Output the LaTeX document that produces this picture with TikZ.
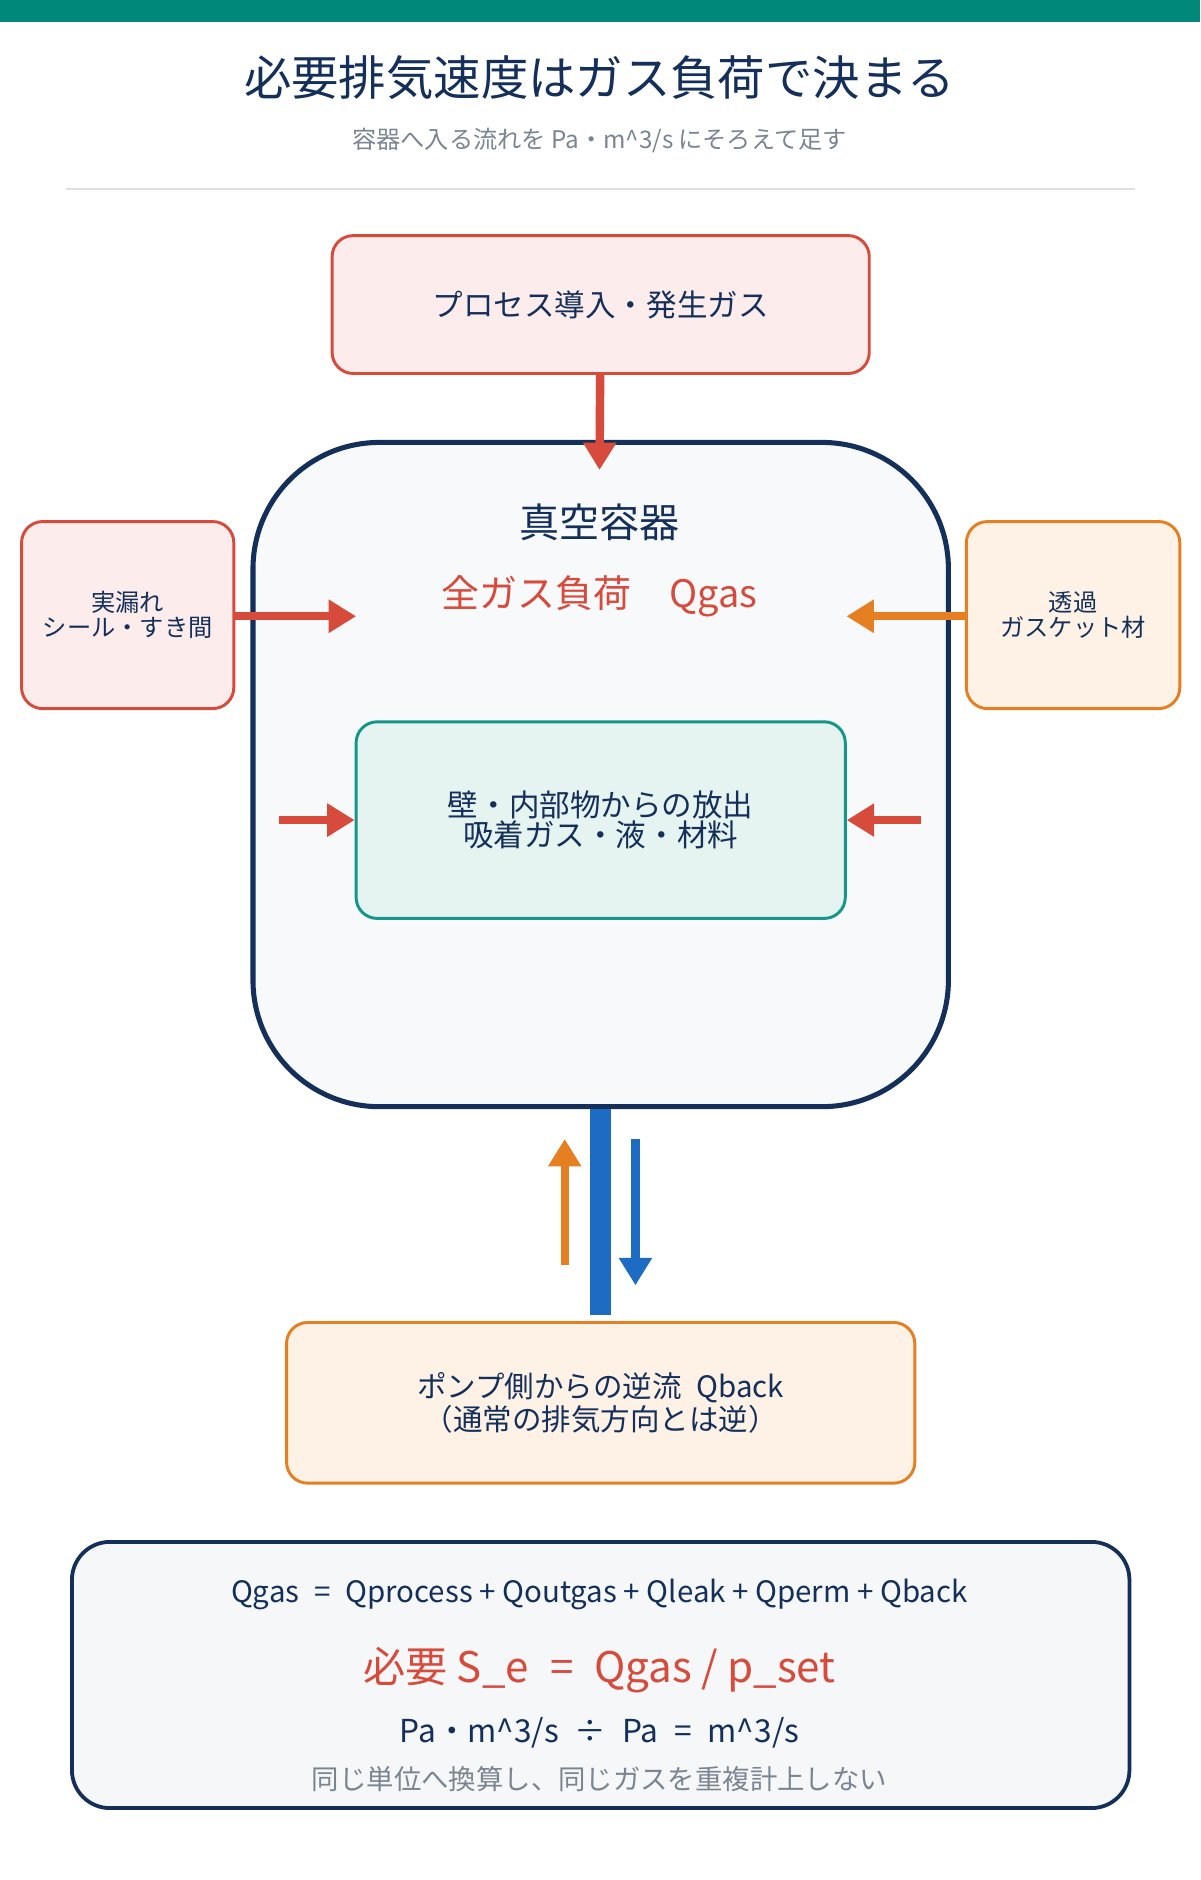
\documentclass[tikz,border=0pt]{standalone}
\usepackage{fontspec}
\setmainfont{Noto Sans CJK JP}
\usetikzlibrary{arrows.meta}
\definecolor{navy}{HTML}{14305A}
\definecolor{teal}{HTML}{00897B}
\definecolor{redline}{HTML}{D64B3C}
\definecolor{redfill}{HTML}{FDECEC}
\definecolor{orline}{HTML}{E67E22}
\definecolor{orfill}{HTML}{FEF2E6}
\definecolor{tealfill}{HTML}{E6F4F1}
\definecolor{tealline}{HTML}{14968A}
\definecolor{blueflow}{HTML}{1E6BC4}
\definecolor{greytext}{HTML}{7A8591}
\newcommand{\fs}[1]{\fontsize{#1}{1.35\dimexpr#1\relax}\selectfont}
\tikzset{
  box/.style={draw, line width=1.4pt, rounded corners=10pt, align=center, text=navy},
  src/.style={box, draw=redline, fill=redfill},
  prm/.style={box, draw=orline, fill=orfill},
  flow/.style={-{Triangle[length=13pt,width=15pt]}, line width=4pt},
}
\begin{document}
\begin{tikzpicture}[x=0.02cm,y=-0.02cm]
  \useasboundingbox (0,0) rectangle (1001,1568);
  \fill[teal] (0,0) rectangle (1001,18);
  \node[text=navy] (title) at (500,65) {\fs{22.5pt}必要排気速度はガス負荷で決まる};
  \node[text=greytext] (sub) at (500,117) {\fs{11.5pt}容器へ入る流れを Pa・m\^{}3/s にそろえて足す};
  \draw[line width=1pt, color=navy!15] (55,158) -- (947,158);
  % vessel
  \draw[line width=2.4pt, draw=navy, fill=navy!3, rounded corners=60pt] (211,369) rectangle (791,923);
  \node[text=navy] (vessel) at (500,436) {\fs{19pt}真空容器};
  \node[text=redline] (qgas) at (500,497) {\fs{18pt}全ガス負荷\quad Qgas};
  % sources
  \node[src, minimum width=448*0.02cm, minimum height=115*0.02cm] (proc) at (501,254) {\fs{14.5pt}プロセス導入・発生ガス};
  \node[src, minimum width=177*0.02cm, minimum height=156*0.02cm] (leak) at (106.5,513) {\fs{11.5pt}実漏れ\\\fs{11.5pt}シール・すき間};
  \node[prm, minimum width=178*0.02cm, minimum height=156*0.02cm] (perm) at (895,513) {\fs{11.5pt}透過\\\fs{11.5pt}ガスケット材};
  \node[box, draw=tealline, fill=tealfill, minimum width=408*0.02cm, minimum height=164*0.02cm] (wall) at (501,684) {\fs{14.5pt}壁・内部物からの放出\\\fs{14.5pt}吸着ガス・液・材料};
  \node[prm, minimum width=524*0.02cm, minimum height=134*0.02cm] (back) at (501,1170) {\fs{14pt}ポンプ側からの逆流\enspace Qback\\\fs{14pt}（通常の排気方向とは逆）};
  \coordinate (pin) at (500,392);
  \coordinate (lin) at (297,514);
  \coordinate (rin) at (706,514);
  \coordinate (wl) at (233,684);
  \coordinate (wr) at (768,684);
  \draw[flow, redline] (proc) -- (pin);
  \draw[flow, redline] (leak.east |- lin) -- (lin);
  \draw[flow, orline] (perm.west |- rin) -- (rin);
  \draw[flow, redline, line width=3.5pt] (wl) -- (wall.west);
  \draw[flow, redline, line width=3.5pt] (wr) -- (wall.east);
  % exhaust
  \fill[blueflow] (492,925) rectangle (510,1097);
  \coordinate (up0) at (471,1055); \coordinate (up1) at (471,950);
  \coordinate (dn0) at (530,950); \coordinate (dn1) at (530,1072);
  \draw[flow, orline] (up0) -- (up1);
  \draw[flow, blueflow] (dn0) -- (dn1);
  % formula
  \draw[line width=1.8pt, draw=navy, fill=navy!4, rounded corners=18pt] (60,1286) rectangle (942,1508);
  \node[text=navy] (sum) at (500,1330) {\fs{14pt}Qgas\enspace=\enspace Qprocess + Qoutgas + Qleak + Qperm + Qback};
  \node[text=redline] (req) at (500,1393) {\fs{20pt}必要 S\_e\enspace=\enspace Qgas / p\_set};
  \node[text=navy] (unit) at (500,1445) {\fs{15pt}Pa・m\^{}3/s\enspace÷\enspace Pa\enspace=\enspace m\^{}3/s};
  \node[text=greytext] (note) at (500,1484) {\fs{13pt}同じ単位へ換算し、同じガスを重複計上しない};
\end{tikzpicture}
\end{document}
